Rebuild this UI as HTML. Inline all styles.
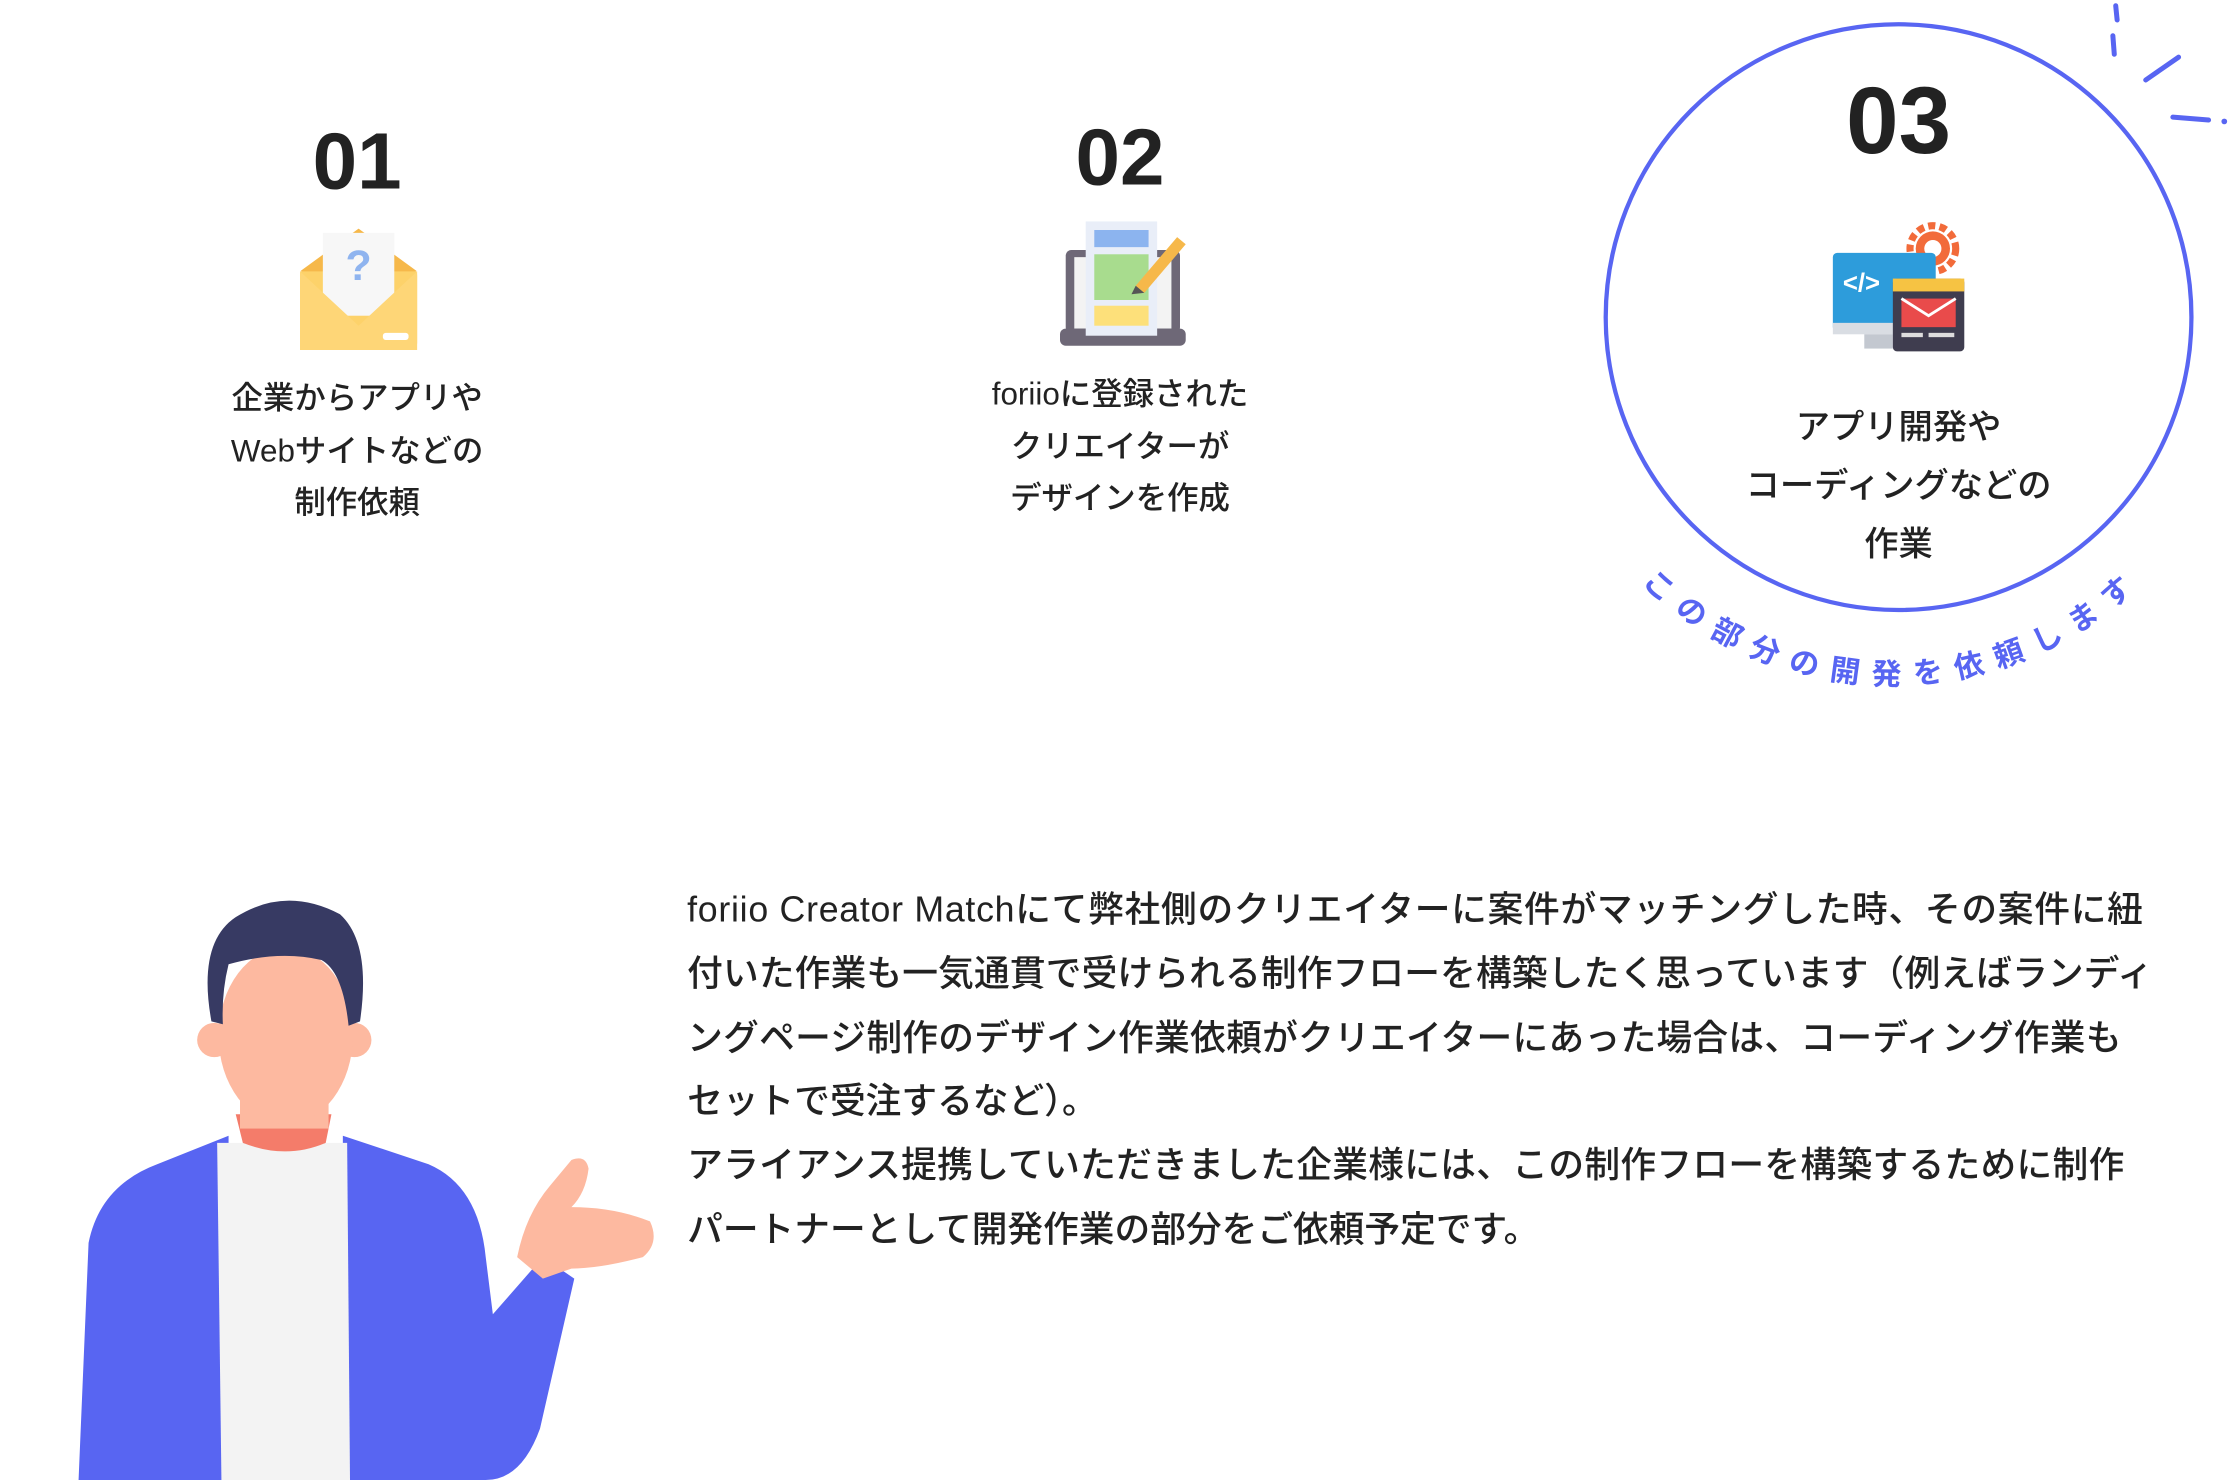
<!DOCTYPE html>
<html><head><meta charset="utf-8">
<style>
html,body{margin:0;padding:0;background:#fff;}
svg{display:block;}
text{font-family:"Liberation Sans","Noto Sans CJK JP",sans-serif;fill:#222;}
</style></head>
<body>
<svg width="2240" height="1480" viewBox="0 0 1568 1036" xmlns="http://www.w3.org/2000/svg">
<rect width="1568" height="1036" fill="#fff"/>

<!-- 01 -->
<text x="250" y="132" font-size="56" font-weight="700" text-anchor="middle" fill="#111">01</text>
<g>
  <rect x="210" y="188" width="82" height="57" rx="5" fill="#fdd26a"/>
  <path d="M210 190 L251 160 L292 190 Z" fill="#f6b84a"/>
  <rect x="226" y="163" width="50" height="58" fill="#f7f7f7"/>
  <text x="251" y="196" font-size="30" font-weight="700" text-anchor="middle" fill="#8fb4ef" style="fill:#8fb4ef">?</text>
  <path d="M210 190 L251 228 L292 190 L292 245 L210 245 Z" fill="#fed677"/>
  <rect x="268" y="233" width="18" height="5" rx="2" fill="#fff"/>
</g>
<g font-size="22" font-weight="500" text-anchor="middle">
<text x="250" y="286">企業からアプリや</text>
<text x="250" y="323">Webサイトなどの</text>
<text x="250" y="359">制作依頼</text>
</g>

<!-- 02 -->
<text x="784" y="129" font-size="56" font-weight="700" text-anchor="middle" fill="#111">02</text>
<g>
  <rect x="746" y="175" width="80" height="58" rx="4" fill="#6e6877"/>
  <rect x="752" y="180" width="68" height="50" fill="#f3f3f3"/>
  <rect x="742" y="230" width="88" height="12" rx="4" fill="#6e6877"/>
  <rect x="760" y="155" width="50" height="80" fill="#e9eef8"/>
  <rect x="766" y="161" width="38" height="12" fill="#8cb4ef"/>
  <rect x="766" y="178" width="38" height="32" fill="#a8dc8e"/>
  <rect x="766" y="214" width="38" height="14" fill="#fde07a"/>
  <path d="M795 200 L824 166 L830 171 L801 205 Z" fill="#f6b84a"/>
  <path d="M792 206 L795 200 L801 205 Z" fill="#555"/>
</g>
<g font-size="22" font-weight="500" text-anchor="middle">
<text x="784" y="283">foriioに登録された</text>
<text x="784" y="320">クリエイターが</text>
<text x="784" y="356">デザインを作成</text>
</g>

<!-- 03 -->
<circle cx="1329" cy="222" r="205" fill="none" stroke="#5865f2" stroke-width="3"/>
<text x="1329" y="107" font-size="66" font-weight="700" text-anchor="middle" fill="#111">03</text>
<g>
  <circle cx="1353" cy="174" r="16" fill="none" stroke="#f26b3a" stroke-width="5" stroke-dasharray="5 3"/>
  <circle cx="1353" cy="174" r="12" fill="#f26b3a"/>
  <circle cx="1353" cy="174" r="6" fill="#fff"/>
  <rect x="1283" y="177" width="72" height="55" rx="3" fill="#2d9cdb"/>
  <rect x="1283" y="226" width="72" height="8" fill="#d9dde3"/>
  <rect x="1305" y="234" width="20" height="10" fill="#c3c8d0"/>
  <text x="1303" y="204" font-size="18" font-weight="700" text-anchor="middle" style="fill:#fff">&lt;/&gt;</text>
  <rect x="1325" y="195" width="50" height="51" rx="3" fill="#3f3d4f"/>
  <rect x="1325" y="195" width="50" height="9" fill="#f6c343"/>
  <rect x="1331" y="209" width="38" height="20" fill="#e94b4b"/>
  <path d="M1331 209 L1350 221 L1369 209" stroke="#fff" stroke-width="2" fill="none"/>
  <rect x="1331" y="233" width="15" height="3" fill="#ddd"/>
  <rect x="1350" y="233" width="18" height="3" fill="#ddd"/>
</g>
<g font-size="24" font-weight="500" text-anchor="middle">
<text x="1329" y="307">アプリ開発や</text>
<text x="1329" y="348">コーディングなどの</text>
<text x="1329" y="389">作業</text>
</g>
<defs>
<path id="arc" d="M 1148.9 408.4 A 252 252 0 0 0 1509.1 398.4"/>
</defs>
<text font-size="21" font-weight="700" style="fill:#5865f2">
<textPath href="#arc" textLength="380" lengthAdjust="spacing">この部分の開発を依頼します</textPath>
</text>
<g stroke="#5865f2" stroke-width="3.5" stroke-linecap="round">
<line x1="1481" y1="4" x2="1482" y2="14"/>
<line x1="1479" y1="25" x2="1480" y2="38"/>
<line x1="1502" y1="56" x2="1525" y2="40"/>
<line x1="1521" y1="82" x2="1546" y2="84"/>
</g>
<circle cx="1557" cy="85" r="2" fill="#5865f2"/>

<!-- paragraph -->
<g font-size="25" font-weight="500">
<text x="481" y="645" textLength="1019" lengthAdjust="spacing">foriio Creator Matchにて弊社側のクリエイターに案件がマッチングした時、その案件に紐</text>
<text x="481" y="690" textLength="1026" lengthAdjust="spacing">付いた作業も一気通貫で受けられる制作フローを構築したく思っています（例えばランディ</text>
<text x="481" y="735" textLength="1004" lengthAdjust="spacing">ングページ制作のデザイン作業依頼がクリエイターにあった場合は、コーディング作業も</text>
<text x="481" y="779">セットで受注するなど）。</text>
<text x="481" y="824" textLength="1006" lengthAdjust="spacing">アライアンス提携していただきました企業様には、この制作フローを構築するために制作</text>
<text x="481" y="869">パートナーとして開発作業の部分をご依頼予定です。</text>
</g>

<!-- person -->
<g>
  <path d="M55 1036 L62 870 Q70 830 110 815 L160 795 L160 1036 Z" fill="#5865f2"/>
  <path d="M240 795 L300 815 Q335 830 340 880 L345 920 L380 880 L402 895 L378 1000 Q365 1036 340 1036 L240 1036 Z" fill="#5865f2"/>
  <path d="M152 800 L243 800 L245 1036 L155 1036 Z" fill="#f3f3f3"/>
  <path d="M165 780 L232 780 L228 800 Q200 812 170 800 Z" fill="#f47c6a"/>
  <rect x="168" y="745" width="62" height="45" fill="#fdb9a0"/>
  <circle cx="150" cy="728" r="12" fill="#fdb9a0"/>
  <circle cx="248" cy="728" r="12" fill="#fdb9a0"/>
  <ellipse cx="200" cy="725" rx="47" ry="62" fill="#fdb9a0"/>
  <path d="M148 715 Q138 660 165 642 Q200 620 238 640 Q260 660 252 715 L244 718 Q240 680 225 672 Q195 665 160 675 Q155 695 156 717 Z" fill="#373a63"/>
  <path d="M362 880 Q368 850 385 830 L400 812 Q410 808 412 818 Q410 835 400 845 Q430 845 455 855 Q462 870 450 880 Q420 888 400 888 L380 895 Z" fill="#fdb9a0"/>
</g>
</svg>
</body></html>
